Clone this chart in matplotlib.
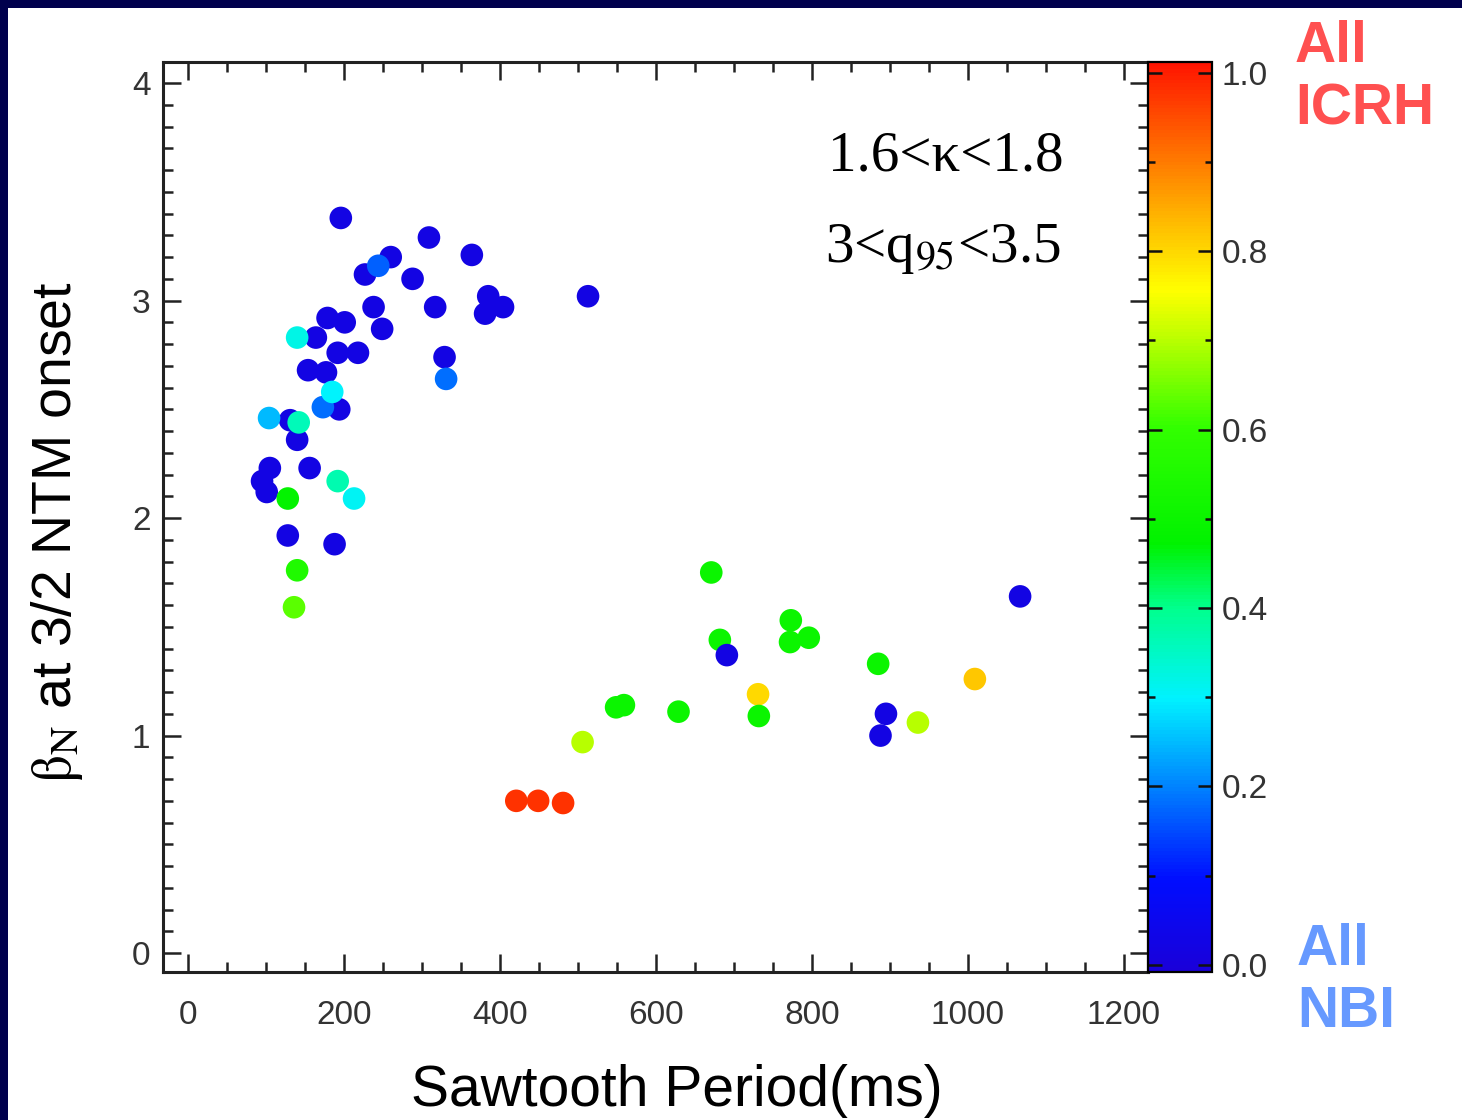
import matplotlib
matplotlib.use("Agg")
import matplotlib.pyplot as plt
from matplotlib.colors import LinearSegmentedColormap, Normalize
from matplotlib.patches import Rectangle
from matplotlib.ticker import MultipleLocator

plt.rcParams['font.family'] = ['Liberation Sans', 'DejaVu Sans']
plt.rcParams['mathtext.fontset'] = 'stix'

# --- data ---
# sawtooth period (ms), beta_N at 3/2 NTM onset, ICRH fraction (0 = all NBI, 1 = all ICRH)
period = [196, 309, 364, 260, 227, 288, 513, 385, 404, 381, 317, 238, 249,
          179, 201, 164, 192, 218, 329, 154, 177, 194, 131, 140, 105, 156,
          95, 101, 128, 188, 244, 331, 173, 104, 140, 185, 142, 192, 213,
          128, 140, 136,
          671, 682, 773, 772, 796, 885, 1067, 731, 732, 1009, 895, 888, 936,
          549, 559, 629, 506, 691, 421, 449, 481]
beta_n = [3.38, 3.29, 3.21, 3.20, 3.12, 3.10, 3.02, 3.02, 2.97, 2.94, 2.97,
          2.97, 2.87, 2.92, 2.90, 2.83, 2.76, 2.76, 2.74, 2.68, 2.67, 2.50,
          2.45, 2.36, 2.23, 2.23, 2.17, 2.12, 1.92, 1.88, 3.16, 2.64, 2.51,
          2.46, 2.83, 2.58, 2.44, 2.17, 2.09, 2.09, 1.76, 1.59,
          1.75, 1.44, 1.53, 1.43, 1.45, 1.33, 1.64, 1.19, 1.09, 1.26, 1.10,
          1.00, 1.06, 1.13, 1.14, 1.11, 0.97, 1.37, 0.70, 0.70, 0.69]
icrh_frac = [0.02, 0.02, 0.02, 0.02, 0.02, 0.02, 0.02, 0.02, 0.02, 0.02,
             0.02, 0.02, 0.02, 0.02, 0.02, 0.02, 0.02, 0.02, 0.02, 0.02,
             0.02, 0.02, 0.02, 0.02, 0.02, 0.02, 0.02, 0.02, 0.02, 0.02,
             0.17, 0.18, 0.18, 0.25, 0.32, 0.30, 0.36, 0.37, 0.31, 0.48,
             0.55, 0.63,
             0.50, 0.50, 0.50, 0.50, 0.50, 0.50, 0.02, 0.80, 0.50, 0.82,
             0.02, 0.02, 0.70, 0.50, 0.50, 0.50, 0.70, 0.02, 0.98, 0.98, 0.98]

cbar_major = [0.0, 0.2, 0.4, 0.6, 0.8, 1.0]
cbar_labels = ['0.0', '0.2', '0.4', '0.6', '0.8', '1.0']

# IDL-like rainbow
cmap = LinearSegmentedColormap.from_list('idl_rainbow', [
    (0.00, (0.10, 0.00, 0.85)),
    (0.10, (0.00, 0.05, 1.00)),
    (0.20, (0.00, 0.50, 1.00)),
    (0.30, (0.00, 0.95, 1.00)),
    (0.40, (0.00, 1.00, 0.55)),
    (0.47, (0.00, 0.95, 0.00)),
    (0.60, (0.20, 1.00, 0.00)),
    (0.70, (0.75, 1.00, 0.00)),
    (0.75, (1.00, 1.00, 0.00)),
    (0.82, (1.00, 0.75, 0.00)),
    (0.90, (1.00, 0.45, 0.00)),
    (1.00, (1.00, 0.08, 0.00)),
])
norm = Normalize(vmin=-0.008, vmax=1.012)

W, H = 1462, 1120
fig = plt.figure(figsize=(W / 100, H / 100), dpi=100)
fig.patch.set_facecolor('#00004d')
fig.add_artist(Rectangle((8 / W, 0), 1, 1 - 8 / H, transform=fig.transFigure,
                         facecolor='white', edgecolor='none', zorder=0))

ax_l, ax_r, ax_t, ax_b = 163, 1148, 62, 972
ax = fig.add_axes([ax_l / W, 1 - ax_b / H, (ax_r - ax_l) / W, (ax_b - ax_t) / H])
ax.scatter(period, beta_n, c=icrh_frac, cmap=cmap, norm=norm, s=265,
           edgecolors='none', zorder=3)
ax.set_xlim(-32, 1231)
ax.set_ylim(-0.087, 4.097)

ax.xaxis.set_major_locator(MultipleLocator(200))
ax.xaxis.set_minor_locator(MultipleLocator(50))
ax.yaxis.set_major_locator(MultipleLocator(1))
ax.yaxis.set_minor_locator(MultipleLocator(0.1))
ax.tick_params(which='both', direction='in', top=True, right=True,
               width=1.8, color='#222222')
ax.tick_params(which='major', length=13, labelsize=24, labelcolor='#333333')
ax.tick_params(which='minor', length=7.5)
ax.tick_params(axis='x', pad=20)
ax.tick_params(axis='y', pad=9)
for sp in ax.spines.values():
    sp.set_linewidth(2.2)
    sp.set_color('#222222')

# annotations
ax.text(0.675, 0.881, '1.6<κ<1.8', transform=ax.transAxes,
        family='Liberation Serif', fontsize=41, va='baseline', ha='left')
ax.text(0.672, 0.780, r'3<q$_{\mathrm{95}}$<3.5', transform=ax.transAxes,
        family='Liberation Serif', fontsize=41, va='baseline', ha='left')

# colour bar
cax = fig.add_axes([ax_r / W, 1 - ax_b / H, 64 / W, (ax_b - ax_t) / H])
sm = plt.cm.ScalarMappable(norm=norm, cmap=cmap)
cb = fig.colorbar(sm, cax=cax)
cb.outline.set_linewidth(1.6)
cax.set_ylim(-0.008, 1.012)
cax.set_yticks(cbar_major)
cax.set_yticklabels(cbar_labels)
cax.yaxis.set_minor_locator(MultipleLocator(0.1))
cax.tick_params(which='both', direction='in', left=True, right=True,
                color='#111111', width=1.8)
cax.tick_params(which='major', length=10, labelsize=24, labelcolor='#333333', pad=7)
cax.tick_params(which='minor', length=5)

# axis titles
fig.text(57 / W, 1 - 532 / H, r'$\mathrm{\beta_N}$ at 3/2 NTM onset',
         rotation=90, ha='center', va='center', fontsize=40)
fig.text(677 / W, 1 - 1091 / H, 'Sawtooth Period(ms)', ha='center',
         va='center', fontsize=41)

fig.text(1295 / W, 1 - 20 / H, 'All\nICRH', ha='left', va='top', fontsize=41,
         fontweight='bold', color='#ff5050', linespacing=1.2)
fig.text(1297 / W, 1 - 1039 / H, 'All\nNBI', ha='left', va='bottom', fontsize=41,
         fontweight='bold', color='#6699ff', linespacing=1.2)

fig.savefig('out.png', dpi=100, facecolor=fig.get_facecolor())
